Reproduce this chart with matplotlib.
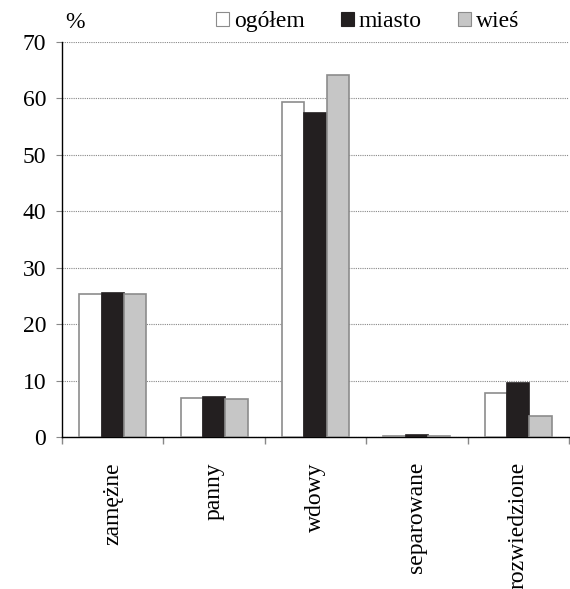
import matplotlib
matplotlib.use("Agg")
import matplotlib.pyplot as plt
from matplotlib.patches import Patch
import numpy as np

categories = ["zamężne", "panny", "wdowy", "separowane", "rozwiedzione"]
ogolem = [25.3, 6.9, 59.4, 0.2, 7.8]
miasto = [25.5, 7.1, 57.4, 0.3, 9.6]
wies = [25.3, 6.7, 64.2, 0.1, 3.7]
series_names = ["ogółem", "miasto", "wieś"]
yticks = [0, 10, 20, 30, 40, 50, 60, 70]

plt.rcParams['font.family'] = ['Liberation Serif', 'DejaVu Serif']

fig = plt.figure(figsize=(5.7, 5.89), dpi=100)
ax = fig.add_axes([0.109, 0.258, 0.889, 0.671])

x = np.arange(len(categories))
w = 0.22
styles = [
    dict(facecolor="white", edgecolor="#8c8c8c"),
    dict(facecolor="#231f20", edgecolor="#231f20"),
    dict(facecolor="#c6c6c6", edgecolor="#8c8c8c"),
]
for i, (vals, st) in enumerate(zip([ogolem, miasto, wies], styles)):
    ax.bar(x + (i - 1) * w, vals, width=w, linewidth=1.2, zorder=3, **st)

ax.set_xlim(-0.5, len(categories) - 0.5)
ax.set_ylim(0, 70)
ax.set_yticks(yticks)
ax.set_yticklabels([str(v) for v in yticks], fontsize=17)
ax.yaxis.grid(True, linestyle=(0, (1, 1)), color="#888888", linewidth=0.8, zorder=0)
ax.tick_params(axis='y', length=4.5, color="#888888", width=0.8, pad=7)

ax.set_xticks(x)
ax.set_xticklabels(categories, rotation=90, fontsize=17, va="top")
ax.tick_params(axis='x', length=0, pad=18)
ax.set_xticks(np.arange(-0.5, len(categories), 1.0), minor=True)
ax.tick_params(axis='x', which='minor', length=5, color="#888888", width=1)

for s in ["top", "right"]:
    ax.spines[s].set_visible(False)
ax.spines["left"].set_color("black")
ax.spines["bottom"].set_color("black")
ax.spines["left"].set_linewidth(1.0)
ax.spines["bottom"].set_linewidth(1.0)

fig.text(0.132, 0.961, "%", fontsize=17, ha="center", va="center")

handles = [Patch(**st, linewidth=0.8) for st in styles]
fig.legend(handles, series_names, loc="center", bbox_to_anchor=(0.645, 0.963),
           ncol=3, frameon=False, fontsize=17, handlelength=0.55, handleheight=0.55,
           handletextpad=0.2, columnspacing=1.55, borderaxespad=0, borderpad=0)

fig.savefig("out.png", dpi=100)
